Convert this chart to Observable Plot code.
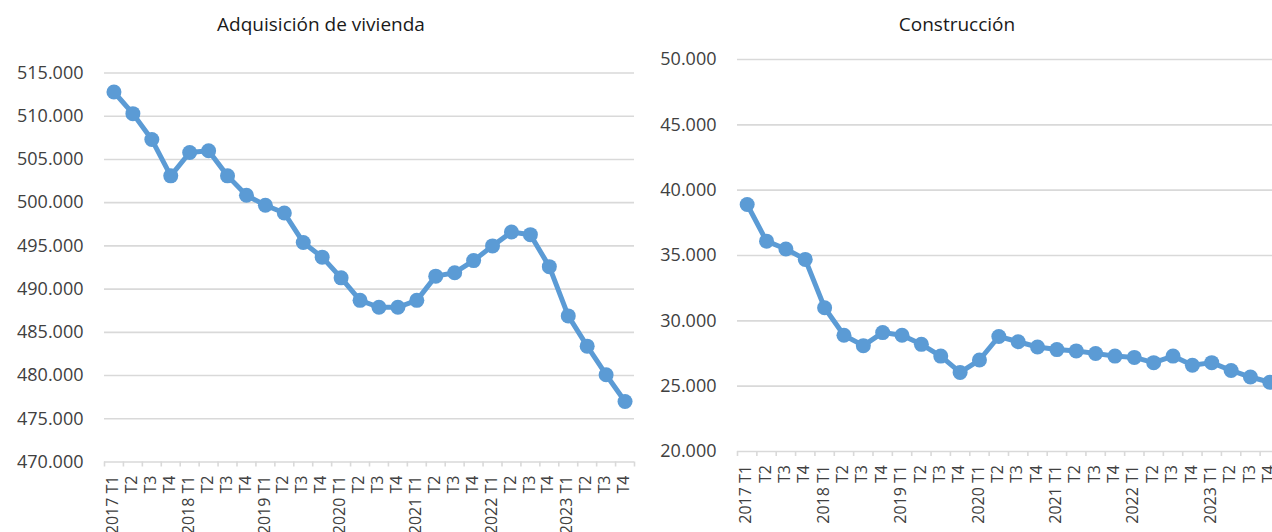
<!DOCTYPE html>
<html><head><meta charset="utf-8">
<script src="https://cdn.jsdelivr.net/npm/d3@7"></script>
<script src="https://cdn.jsdelivr.net/npm/@observablehq/plot@0.6"></script>
<style>
html,body{margin:0;padding:0;background:#fff;overflow:hidden}
#wrap{position:relative;width:1272px;height:532px;overflow:hidden}
.panel{position:absolute;top:0}
.title{position:absolute;top:11px;font-family:"Open Sans";font-size:19px;color:#1a1a1a;white-space:nowrap;transform:translateX(-50%)}
</style></head><body><div id="wrap"></div>
<script>
const quarters = ["2017 T1","T2","T3","T4","2018 T1","T2","T3","T4","2019 T1","T2","T3","T4","2020 T1","T2","T3","T4","2021 T1","T2","T3","T4","2022 T1","T2","T3","T4","2023 T1","T2","T3","T4"];
const adquisicion = [512800,510300,507300,503100,505800,506000,503100,500850,499700,498800,495400,493700,491300,488700,487900,487900,488700,491500,491900,493300,495000,496600,496300,492600,486900,483400,480100,477000];
const construccion = [38900,36100,35500,34700,31000,28900,28100,29100,28900,28200,27300,26050,27000,28800,28400,28000,27800,27700,27500,27300,27200,26800,27300,26600,26800,26200,25700,25300];
const adqTicks = [470000,475000,480000,485000,490000,495000,500000,505000,510000,515000];
const conTicks = [20000,25000,30000,35000,40000,45000,50000];
const titles = ["Adquisición de vivienda","Construcción"];

const locale = d3.formatLocale({decimal:",", thousands:".", grouping:[3], currency:["","€"]});
const fmt = locale.format(",");
const blue = "#5b9bd5";
const grid = "#d9d9d9";

function panel({values, ticks, left, width, marginLeft, marginRight, marginTop, marginBottom, title, titleX}) {
  const data = values.map((v, i) => ({i: i + 0.5, v, label: quarters[i]}));
  const y0 = ticks[0];
  const chart = Plot.plot({
    width, height: 532, marginLeft, marginRight, marginTop, marginBottom,
    style: {fontFamily: '"Open Sans"', fontSize: "16px", color: "#404040", background: "transparent"},
    x: {domain: [0, quarters.length], axis: null},
    y: {domain: [ticks[0], ticks[ticks.length - 1]], axis: null},
    marks: [
      Plot.ruleY(ticks, {stroke: grid, strokeWidth: 1.6}),
      Plot.axisY({ticks, tickSize: 0, tickPadding: 21, tickFormat: fmt, fontSize: 18, label: null, fill: "#404040"}),
      Plot.axisX({ticks: d3.range(quarters.length + 1), tickFormat: () => "", tickSize: 5, stroke: grid, strokeWidth: 1.6, label: null}),
      Plot.text(data, {x: "i", y: () => y0, text: "label", rotate: -90, textAnchor: "end", lineAnchor: "middle", dx: -1, dy: 13.5, fontSize: 16, fill: "#404040"}),
      Plot.line(data, {x: "i", y: "v", stroke: blue, strokeWidth: 5, strokeLinejoin: "round"}),
      Plot.dot(data, {x: "i", y: "v", r: 7.5, fill: blue, stroke: "none"})
    ]
  });
  const div = document.createElement("div");
  div.className = "panel";
  div.style.left = left + "px";
  div.style.width = width + "px";
  div.appendChild(chart);
  document.getElementById("wrap").appendChild(div);
  const t = document.createElement("div");
  t.className = "title";
  t.style.left = titleX + "px";
  t.textContent = title;
  document.getElementById("wrap").appendChild(t);
}

panel({values: adquisicion, ticks: adqTicks, left: 0, width: 640, marginLeft: 104, marginRight: 6, marginTop: 72.5, marginBottom: 70.5, title: titles[0], titleX: 321});
panel({values: construccion, ticks: conTicks, left: 640, width: 644, marginLeft: 97, marginRight: 5, marginTop: 59, marginBottom: 81, title: titles[1], titleX: 957});
</script>
</body></html>
